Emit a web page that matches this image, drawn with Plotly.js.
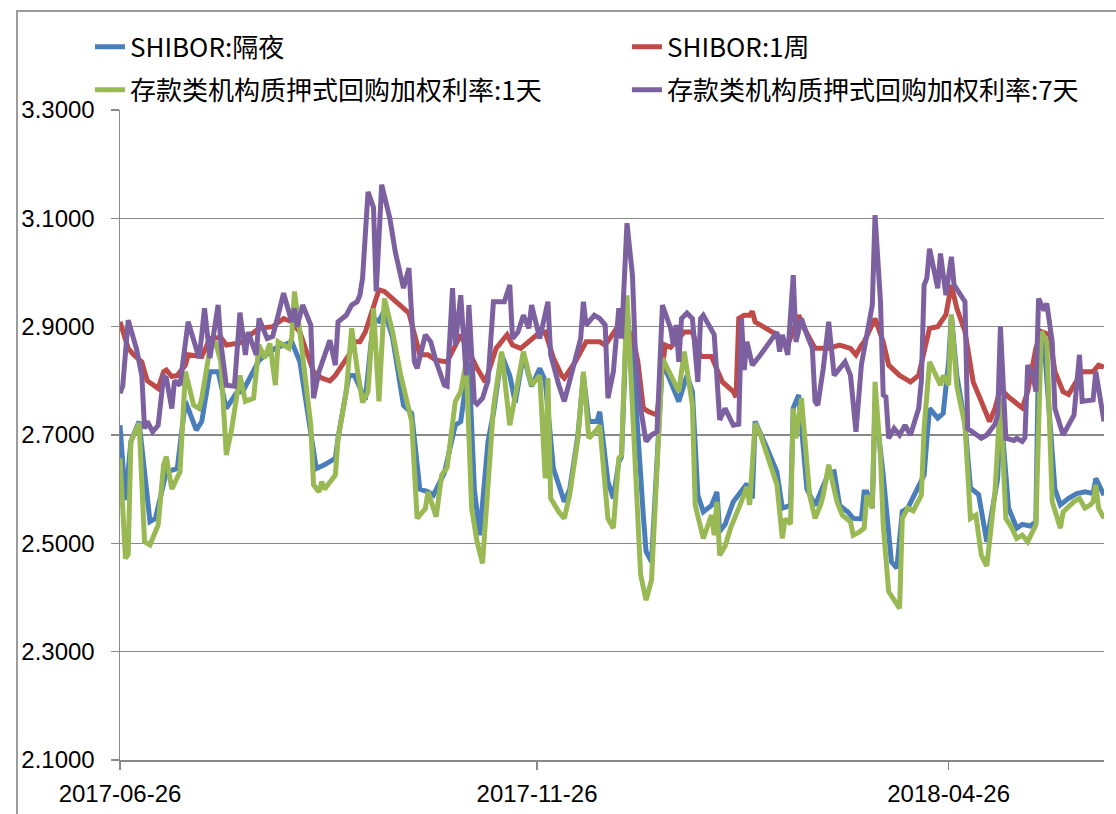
<!DOCTYPE html>
<html>
<head>
<meta charset="utf-8">
<script src="https://cdn.plot.ly/plotly-3.0.1.min.js"></script>
<style>
html,body{margin:0;padding:0;background:#fff;overflow:hidden;}
#wrap{position:relative;width:1116px;height:814px;overflow:hidden;}
#chart{width:1116px;height:814px;}
#frame{position:absolute;left:16px;top:10px;width:1200px;height:900px;border-left:2px solid #9c9c9c;border-top:2px solid #9c9c9c;pointer-events:none;z-index:10;}
</style>
</head>
<body>
<div id="wrap"><div id="chart"></div><div id="frame"></div></div>
<script>
// Day offsets are calendar days counted from the base date 2017-06-26
const baseDate = '2017-06-26';
const seriesNames = ['SHIBOR:隔夜', 'SHIBOR:1周', '存款类机构质押式回购加权利率:1天', '存款类机构质押式回购加权利率:7天'];
const tickDates = ['2017-06-26', '2017-11-26', '2018-04-26'];
const tickLabels = ['2017-06-26', '2017-11-26', '2018-04-26'];
const yTicks = [2.1, 2.3, 2.5, 2.7, 2.9, 3.1, 3.3];

const onDays = [0,2,4,7,11,13,17,21,24,27,28,30,33,36,39,43,45,51,54,57,60,63,66,69,72,75,79,80,84,86,90,93,95,97,100,104,107,110,113,115,119,123,125,128,130,132,135,137,140,143,145,148,151,154,156,159,163,165,168,170,172,175,176,179,181,183,184,186,189,192,193,195,199,205,208,210,212,214,217,219,220,222,225,227,230,232,233,237,241,243,246,247,249,252,255,260,262,264,267,269,272,273,274,276,277,280,283,285,287,289,295,296,297,300,302,304,305,307,310,312,315,318,319,322,323,326,329,331,334,336,337,339,343,345,348,351,354,357,358,361];
const onVals = [2.718,2.58,2.688,2.725,2.54,2.546,2.632,2.638,2.762,2.725,2.709,2.725,2.817,2.817,2.749,2.78,2.78,2.838,2.848,2.86,2.866,2.872,2.835,2.737,2.638,2.645,2.657,2.694,2.81,2.81,2.765,2.915,2.91,2.93,2.88,2.755,2.74,2.60,2.595,2.589,2.63,2.718,2.725,2.835,2.60,2.515,2.688,2.74,2.848,2.81,2.76,2.848,2.79,2.823,2.80,2.638,2.577,2.60,2.70,2.81,2.725,2.725,2.743,2.614,2.583,2.65,2.66,2.93,2.78,2.55,2.485,2.466,2.835,2.762,2.81,2.78,2.589,2.558,2.57,2.595,2.522,2.535,2.577,2.59,2.61,2.583,2.725,2.68,2.632,2.565,2.57,2.75,2.774,2.60,2.57,2.63,2.632,2.57,2.558,2.546,2.545,2.595,2.595,2.565,2.76,2.626,2.466,2.454,2.559,2.565,2.626,2.69,2.749,2.731,2.74,2.835,2.922,2.81,2.72,2.602,2.59,2.503,2.53,2.62,2.75,2.565,2.528,2.535,2.532,2.54,2.86,2.872,2.60,2.571,2.583,2.592,2.595,2.592,2.62,2.589];

const w1Days = [0,3,5,8,10,13,14,16,17,19,21,24,25,30,33,37,39,44,51,56,60,63,66,68,71,74,77,79,82,84,86,88,90,93,95,97,105,106,110,113,116,120,125,131,134,137,138,142,144,147,150,153,156,159,162,163,167,171,176,178,181,183,185,188,190,192,194,197,200,202,207,210,213,217,221,225,226,227,229,231,232,233,237,241,245,249,251,255,260,264,268,270,272,273,277,280,282,286,288,290,293,297,300,303,305,307,310,313,316,319,321,323,326,330,331,333,336,338,341,343,346,348,350,353,357,359,361];
const w1Vals = [2.909,2.86,2.848,2.835,2.80,2.789,2.786,2.817,2.82,2.808,2.81,2.829,2.848,2.845,2.878,2.88,2.866,2.87,2.897,2.90,2.915,2.909,2.89,2.86,2.817,2.805,2.80,2.81,2.835,2.848,2.872,2.872,2.89,2.934,2.968,2.965,2.928,2.925,2.848,2.848,2.838,2.835,2.885,2.823,2.798,2.848,2.86,2.885,2.866,2.86,2.872,2.885,2.89,2.842,2.81,2.805,2.835,2.872,2.872,2.866,2.888,2.903,2.89,2.885,2.835,2.749,2.743,2.737,2.866,2.862,2.89,2.89,2.845,2.845,2.798,2.78,2.77,2.915,2.921,2.921,2.928,2.909,2.897,2.885,2.866,2.921,2.897,2.86,2.86,2.866,2.86,2.848,2.866,2.872,2.915,2.872,2.829,2.81,2.804,2.798,2.81,2.897,2.90,2.922,2.977,2.934,2.891,2.798,2.762,2.725,2.749,2.786,2.77,2.755,2.75,2.78,2.86,2.891,2.885,2.817,2.78,2.775,2.792,2.817,2.817,2.829,2.825];

const r1Days = [0,2,3,4,7,9,11,14,16,17,19,22,24,27,29,30,33,35,37,39,41,43,44,46,49,51,53,55,57,58,62,63,64,66,68,70,71,73,74,75,79,80,83,85,87,89,91,93,95,97,100,103,107,109,112,113,116,118,120,123,125,127,129,131,133,135,137,140,143,148,151,154,156,157,158,161,163,165,168,170,172,175,176,179,181,183,184,186,188,191,193,195,199,203,205,207,210,211,214,217,218,219,220,222,224,227,230,231,233,235,241,243,244,246,247,248,250,253,255,257,258,260,263,265,268,269,271,273,274,276,277,279,280,282,286,287,289,291,294,295,297,301,302,304,305,307,310,312,314,316,318,321,323,325,327,329,331,333,336,338,340,342,345,346,350,352,354,356,357,358,359,361];
const r1Vals = [2.657,2.472,2.48,2.688,2.722,2.503,2.497,2.534,2.645,2.66,2.60,2.632,2.817,2.755,2.749,2.768,2.86,2.872,2.835,2.663,2.712,2.774,2.81,2.762,2.768,2.866,2.842,2.869,2.792,2.872,2.86,2.88,2.965,2.89,2.81,2.718,2.608,2.595,2.614,2.60,2.626,2.694,2.78,2.897,2.823,2.76,2.78,2.934,2.762,2.952,2.89,2.81,2.725,2.546,2.564,2.595,2.549,2.626,2.64,2.762,2.78,2.835,2.565,2.503,2.463,2.60,2.75,2.854,2.718,2.854,2.792,2.81,2.62,2.805,2.583,2.558,2.546,2.59,2.694,2.817,2.694,2.71,2.718,2.546,2.528,2.657,2.663,2.958,2.762,2.442,2.395,2.432,2.842,2.798,2.78,2.854,2.755,2.571,2.509,2.552,2.515,2.577,2.478,2.495,2.528,2.565,2.604,2.571,2.722,2.70,2.608,2.509,2.545,2.536,2.749,2.694,2.768,2.589,2.546,2.571,2.589,2.645,2.577,2.552,2.54,2.515,2.52,2.528,2.589,2.565,2.798,2.66,2.534,2.411,2.38,2.546,2.565,2.56,2.589,2.712,2.835,2.792,2.81,2.792,2.922,2.79,2.718,2.546,2.552,2.478,2.458,2.595,2.768,2.546,2.53,2.509,2.515,2.503,2.534,2.891,2.872,2.577,2.528,2.558,2.577,2.583,2.565,2.571,2.577,2.608,2.565,2.546];

const r7Days = [0,1,3,6,8,9,10,12,14,16,17,19,20,22,25,27,29,30,31,33,36,37,39,42,44,46,47,50,51,54,56,58,60,63,64,65,67,70,71,73,77,79,80,83,85,87,88,89,91,93,94,96,99,101,104,106,108,109,112,114,116,119,120,122,123,125,127,128,130,131,133,135,137,141,143,144,146,148,150,151,154,157,158,161,163,166,169,170,171,174,176,178,179,181,183,184,186,188,189,191,193,195,197,199,202,203,204,205,206,208,210,212,213,214,218,220,222,225,227,228,229,230,232,235,241,242,243,245,247,248,250,252,254,255,256,258,260,262,264,266,268,270,272,276,277,279,280,281,282,284,286,288,290,293,294,295,296,297,300,301,303,305,306,310,311,314,316,318,321,322,323,325,328,329,331,332,333,335,336,337,339,340,342,343,346,350,352,353,357,358,361];
const r7Vals = [2.777,2.79,2.912,2.86,2.81,2.712,2.725,2.706,2.718,2.808,2.805,2.749,2.80,2.792,2.909,2.872,2.842,2.885,2.934,2.842,2.94,2.87,2.792,2.79,2.926,2.848,2.89,2.848,2.915,2.878,2.882,2.921,2.962,2.909,2.934,2.90,2.94,2.903,2.768,2.817,2.875,2.829,2.909,2.921,2.94,2.946,2.958,2.99,3.149,3.12,2.965,3.162,3.10,3.038,2.971,3.008,2.835,2.823,2.885,2.872,2.835,2.792,2.79,2.971,2.866,2.958,2.81,2.94,2.762,2.757,2.768,2.80,2.946,2.946,2.977,2.878,2.89,2.921,2.897,2.94,2.878,2.946,2.848,2.792,2.762,2.82,2.878,2.946,2.903,2.921,2.915,2.903,2.768,2.817,2.934,2.878,3.091,2.995,2.86,2.749,2.688,2.70,2.706,2.94,2.897,2.866,2.903,2.835,2.915,2.925,2.915,2.798,2.915,2.921,2.885,2.728,2.749,2.718,2.72,2.915,2.82,2.872,2.829,2.848,2.89,2.854,2.885,2.848,2.995,2.872,2.915,2.885,2.86,2.762,2.755,2.823,2.909,2.81,2.823,2.835,2.81,2.706,2.83,2.94,3.106,2.946,2.774,2.77,2.694,2.712,2.70,2.718,2.70,2.749,2.80,2.977,2.989,3.044,2.971,3.035,2.958,3.029,2.977,2.946,2.712,2.70,2.694,2.70,2.72,2.737,2.90,2.694,2.69,2.694,2.688,2.695,2.829,2.81,2.78,2.952,2.93,2.943,2.872,2.749,2.70,2.737,2.848,2.762,2.765,2.817,2.725];

const colors = ['#4a7ebb', '#be4b48', '#98b954', '#7d60a0'];

function toDate(d) {
  const t = Date.UTC(2017, 5, 26) + d * 86400000;
  return new Date(t).toISOString().slice(0, 10);
}

const cjkFamily = '"Noto Sans CJK SC", "Liberation Sans", sans-serif';
const tickFont = {family: '"Liberation Sans", Arial, sans-serif', size: 24, color: '#000'};
const legendFont = {family: cjkFamily, size: 26, color: '#000'};

const dayArrays = [onDays, w1Days, r1Days, r7Days];
const valArrays = [onVals, w1Vals, r1Vals, r7Vals];
const legendIds = ['legend', 'legend2', 'legend3', 'legend4'];

const traces = dayArrays.map((days, i) => ({
  type: 'scatter',
  mode: 'lines',
  name: seriesNames[i],
  x: days.map(toDate),
  y: valArrays[i],
  line: {color: colors[i], width: 5},
  legend: legendIds[i],
  hoverinfo: 'x+y+name'
}));

const gridColor = '#898989';

function legendAt(x, y) {
  return {
    orientation: 'h',
    x: x, xanchor: 'left',
    y: y, yanchor: 'middle',
    font: legendFont,
    bgcolor: 'rgba(0,0,0,0)',
    borderwidth: 0
  };
}

const layout = {
  width: 1116,
  height: 814,
  margin: {l: 120, r: 12, t: 110, b: 54, pad: 0},
  paper_bgcolor: 'rgba(0,0,0,0)',
  plot_bgcolor: 'rgba(0,0,0,0)',
  showlegend: true,
  xaxis: {
    type: 'date',
    range: ['2017-06-26', '2018-06-22'],
    tickmode: 'array',
    tickvals: tickDates,
    ticktext: tickLabels,
    ticks: 'outside',
    ticklen: 8,
    tickwidth: 1.5,
    tickcolor: gridColor,
    showgrid: false,
    zeroline: false,
    showline: true,
    linecolor: gridColor,
    linewidth: 1.5,
    tickfont: tickFont,
    ticklabelstandoff: 4
  },
  yaxis: {
    range: [2.1, 3.3],
    tickmode: 'array',
    tickvals: yTicks,
    tickformat: '.4f',
    ticks: 'outside',
    ticklen: 8,
    tickwidth: 1.5,
    tickcolor: gridColor,
    showgrid: true,
    gridcolor: gridColor,
    gridwidth: 1.5,
    zeroline: false,
    showline: true,
    linecolor: gridColor,
    linewidth: 1.5,
    tickfont: tickFont,
    ticklabelstandoff: 11
  },
  legend: legendAt(-0.0305, 1.097),
  legend2: legendAt(0.5152, 1.097),
  legend3: legendAt(-0.0305, 1.031),
  legend4: legendAt(0.5152, 1.031)
};

Plotly.newPlot('chart', traces, layout, {displayModeBar: false, staticPlot: true});
</script>
</body>
</html>
